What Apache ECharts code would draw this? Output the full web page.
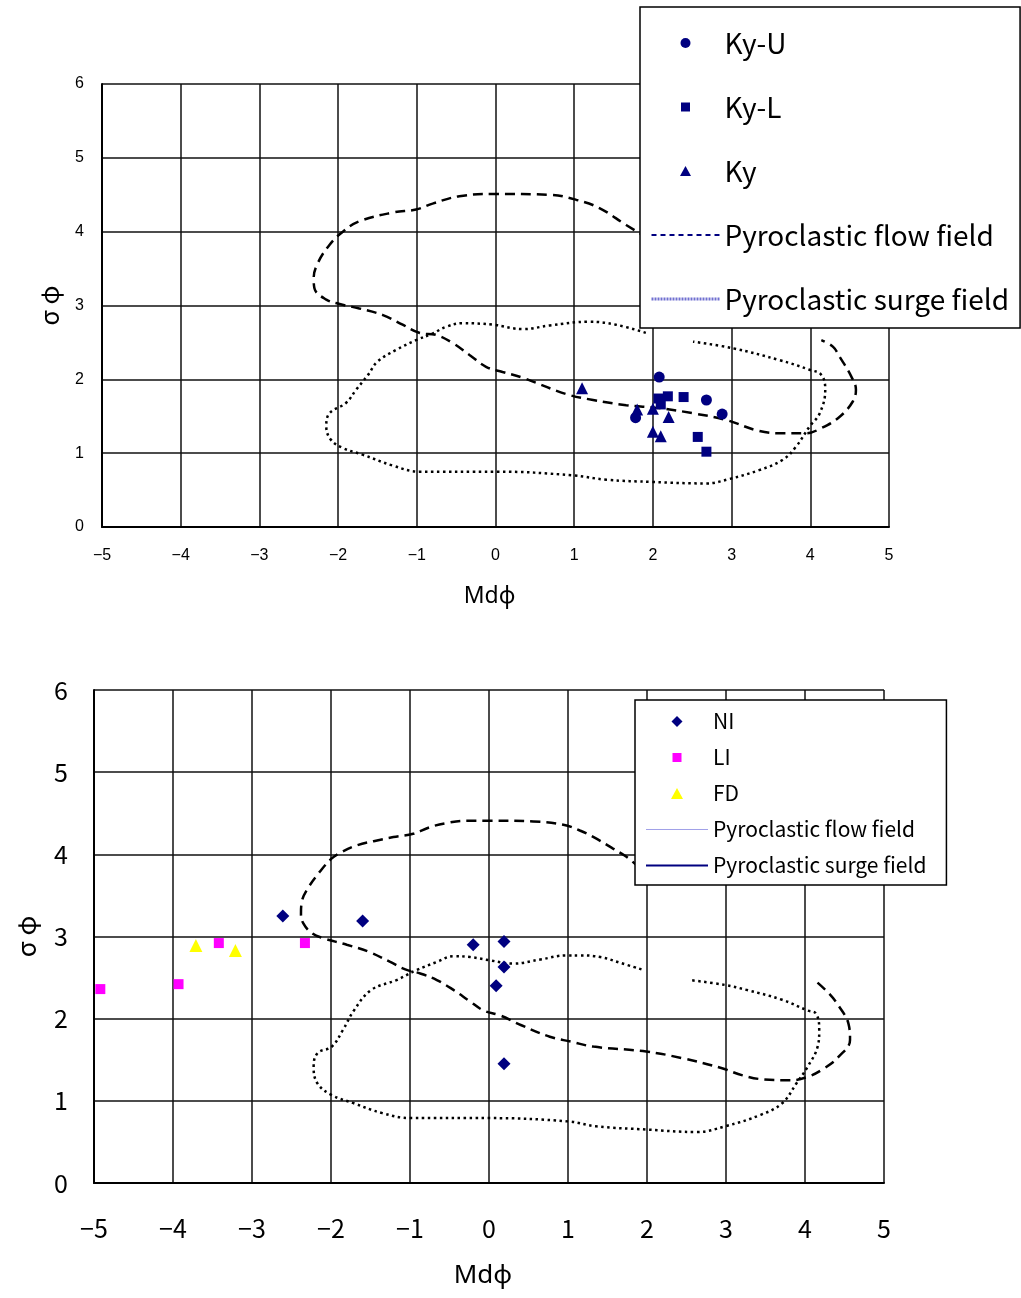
<!DOCTYPE html>
<html><head><meta charset="utf-8">
<script src="https://cdn.jsdelivr.net/npm/echarts@6/dist/echarts.min.js"></script>
<style>html,body{margin:0;padding:0;background:#fff}#top{width:1021px;height:640px}#bot{width:1021px;height:658px}</style>
</head><body><div id="top"></div><div id="bot"></div>
<script>
// ---- Top chart data (Mdφ, σφ) ----
const kyU = [[2.08,2.03],[1.78,1.48],[2.68,1.72],[2.88,1.53]];
const kyL = [[2.07,1.74],[2.10,1.66],[2.19,1.77],[2.39,1.76],[2.57,1.22],[2.68,1.02]];
const ky  = [[1.10,1.88],[1.80,1.59],[2.00,1.60],[2.20,1.49],[2.00,1.29],[2.10,1.23]];
const flowTop = [[1.94,3.91],[1.66,4.09],[1.32,4.32],[1.03,4.43],[0.69,4.50],[-0.03,4.51],[-0.46,4.48],[-0.80,4.38],[-1.01,4.30],[-1.30,4.26],[-1.73,4.14],[-1.94,4.00],[-2.11,3.82],[-2.26,3.57],[-2.31,3.37],[-2.30,3.23],[-2.15,3.08],[-1.98,3.02],[-1.73,2.96],[-1.43,2.87],[-1.18,2.74],[-0.97,2.63],[-0.75,2.60],[-0.54,2.49],[-0.33,2.33],[-0.12,2.17],[0.09,2.10],[0.35,2.02],[0.90,1.80],[1.24,1.72],[1.66,1.65],[2.08,1.61],[2.51,1.54],[2.93,1.45],[3.35,1.30],[3.65,1.27],[3.95,1.27],[4.14,1.34],[4.37,1.49],[4.54,1.70],[4.58,1.86],[4.52,2.04],[4.37,2.31],[4.29,2.44],[4.14,2.53]];
const surgeTop = [[1.91,2.63],[1.53,2.74],[1.19,2.78],[0.69,2.73],[0.35,2.68],[-0.03,2.74],[-0.42,2.76],[-0.63,2.71],[-0.80,2.62],[-1.01,2.53],[-1.26,2.40],[-1.50,2.24],[-1.62,2.06],[-1.77,1.86],[-1.90,1.68],[-2.11,1.54],[-2.15,1.36],[-2.09,1.18],[-1.94,1.07],[-1.69,0.98],[-1.30,0.83],[-0.97,0.75],[0.01,0.75],[0.98,0.70],[1.41,0.64],[2.00,0.61],[2.68,0.59],[2.97,0.65],[3.35,0.77],[3.65,0.91],[3.82,1.09],[3.99,1.36],[4.12,1.54],[4.19,1.86],[4.14,2.06],[3.99,2.13],[3.61,2.26],[3.02,2.42],[2.51,2.51]];

// ---- Bottom chart data ----
const ni = [[-2.61,3.25],[-1.60,3.19],[-0.20,2.90],[0.19,2.94],[0.19,2.63],[0.09,2.40],[0.19,1.45]];
const li = [[-4.92,2.36],[-3.93,2.42],[-3.42,2.92],[-2.33,2.92]];
const fd = [[-3.71,2.89],[-3.21,2.83]];
const flowBot = [[1.91,3.83],[1.74,3.97],[1.57,4.07],[1.36,4.19],[1.15,4.29],[0.94,4.36],[0.56,4.40],[0.01,4.41],[-0.28,4.41],[-0.54,4.38],[-0.75,4.33],[-0.96,4.25],[-1.21,4.21],[-1.46,4.16],[-1.67,4.11],[-1.86,4.03],[-1.99,3.95],[-2.14,3.79],[-2.29,3.59],[-2.37,3.42],[-2.38,3.28],[-2.35,3.16],[-2.24,3.04],[-2.10,2.98],[-1.80,2.90],[-1.51,2.81],[-1.25,2.69],[-1.06,2.60],[-0.87,2.55],[-0.66,2.47],[-0.45,2.35],[-0.24,2.21],[-0.07,2.10],[0.14,2.04],[0.41,1.92],[0.77,1.78],[1.04,1.72],[1.32,1.66],[1.99,1.60],[2.44,1.52],[2.94,1.40],[3.21,1.31],[3.48,1.26],[3.80,1.25],[4.03,1.29],[4.25,1.40],[4.43,1.54],[4.57,1.74],[4.55,1.94],[4.43,2.15],[4.30,2.31],[4.12,2.47]];
const surgeBot = [[1.93,2.60],[1.66,2.68],[1.41,2.75],[1.15,2.77],[0.98,2.77],[0.65,2.72],[0.31,2.67],[0.01,2.71],[-0.24,2.75],[-0.45,2.76],[-0.66,2.69],[-0.92,2.59],[-1.17,2.47],[-1.49,2.35],[-1.71,2.10],[-1.85,1.86],[-1.99,1.66],[-2.17,1.58],[-2.22,1.41],[-2.17,1.21],[-1.99,1.07],[-1.71,0.97],[-1.35,0.85],[-0.99,0.79],[0.00,0.79],[1.00,0.75],[1.36,0.69],[2.01,0.65],[2.63,0.62],[2.99,0.69],[3.44,0.83],[3.71,0.97],[3.89,1.21],[4.03,1.41],[4.16,1.66],[4.18,1.86],[4.14,2.06],[4.03,2.10],[3.71,2.23],[3.26,2.35],[2.99,2.41],[2.54,2.47]];

const NAVY = '#000080';
const fmt = v => String(v).replace('-', '\u2212');
const JP = '"Noto Sans CJK JP", "Noto Sans", sans-serif';

function axes(o) {
  return {
    xAxis: {
      type: 'value', min: -5, max: 5, interval: 1,
      axisLine: { onZero: false, lineStyle: { color: '#000', width: 2 } },
      axisTick: { show: false },
      splitLine: { show: true, lineStyle: { color: '#111', width: 1.5 } },
      axisLabel: { formatter: fmt, color: '#000', fontSize: o.tick, fontFamily: o.tickFont, margin: o.xm },
      name: 'Md\u03c6', nameLocation: 'middle', nameGap: o.xng,
      nameTextStyle: { fontSize: o.nm, color: '#000', fontFamily: '"Noto Sans", "DejaVu Sans", sans-serif', padding: [0, o.xpad, 0, 0] }
    },
    yAxis: {
      type: 'value', min: 0, max: 6, interval: 1,
      axisLine: { show: true, onZero: false, lineStyle: { color: '#000', width: 2 } },
      axisTick: { show: false },
      splitLine: { show: true, lineStyle: { color: '#111', width: 1.5 } },
      axisLabel: { color: '#000', fontSize: o.tick, fontFamily: o.tickFont, margin: o.ym },
      name: '\u03c3 \u03c6', nameLocation: 'middle', nameGap: o.yng, nameRotate: 90,
      nameTextStyle: { fontSize: o.ynm, color: '#000', fontFamily: JP }
    }
  };
}
function curve(name, data, dash) {
  return { name, type: 'line', data, smooth: 0.4, symbol: 'none', z: 1, silent: true,
    lineStyle: { color: '#000', width: 2.5, type: dash } };
}
function pts(name, data, symbol, size, color) {
  return { name, type: 'scatter', data, symbol, symbolSize: size, z: 3,
    itemStyle: { color, opacity: 1 } };
}
const HIDE = { color: 'rgba(0,0,0,0)', borderWidth: 0 };

// ---- Top chart ----
const topChart = echarts.init(document.getElementById('top'));
const ta = axes({ tick: 16, tickFont: '"Liberation Sans", Arial, sans-serif', xm: 21, ym: 18, xng: 58, yng: 40, nm: 23, ynm: 25, xpad: 12 });
topChart.setOption({
  animation: false,
  grid: { left: 102, top: 84, width: 787, height: 443 },
  xAxis: ta.xAxis, yAxis: ta.yAxis,
  legend: {
    orient: 'vertical', left: 640, top: 7,
    padding: [22, 11, 15, 10], itemWidth: 68, itemHeight: 11, itemGap: 36,
    backgroundColor: '#fff', borderColor: '#000', borderWidth: 1.5,
    textStyle: { fontSize: 28, lineHeight: 28, color: '#000', fontFamily: JP },
    data: [
      { name: 'Ky-U', icon: 'path://M0 0M68 11M39 5.5A5 5 0 1 1 29 5.5A5 5 0 1 1 39 5.5Z' },
      { name: 'Ky-L', icon: 'path://M0 0M68 11M29.5 1L38.5 1L38.5 10L29.5 10Z' },
      { name: 'Ky', icon: 'path://M0 0M68 11M34 0.5L39.5 10.5L28.5 10.5Z' },
      { name: 'Pyroclastic flow field', itemStyle: HIDE, lineStyle: { color: NAVY, width: 2, type: [5, 4] } },
      { name: 'Pyroclastic surge field', itemStyle: HIDE, lineStyle: { color: '#7070d0', width: 3, type: [2, 1] } }
    ]
  },
  series: [
    pts('Ky-U', kyU, 'circle', 11, NAVY),
    pts('Ky-L', kyL, 'rect', 10, NAVY),
    pts('Ky', ky, 'triangle', 12, NAVY),
    curve('Pyroclastic flow field', flowTop, [10, 6]),
    curve('Pyroclastic surge field', surgeTop, [2.5, 3.5])
  ]
});

// ---- Bottom chart ----
const botChart = echarts.init(document.getElementById('bot'));
const ba = axes({ tick: 25, tickFont: JP, xm: 33, ym: 26, xng: 80, yng: 55, nm: 26, ynm: 26, xpad: 12 });
botChart.setOption({
  animation: false,
  grid: { left: 94, top: 50, width: 790, height: 493 },
  xAxis: ba.xAxis, yAxis: ba.yAxis,
  legend: {
    orient: 'vertical', left: 635, top: 60,
    padding: [11, 20, 9, 10], itemWidth: 62, itemHeight: 12, itemGap: 15,
    backgroundColor: '#fff', borderColor: '#000', borderWidth: 1.5,
    textStyle: { fontSize: 21, lineHeight: 20, color: '#000', fontFamily: JP },
    data: [
      { name: 'NI', icon: 'path://M0 0M62 12M31 0.5L36.5 6L31 11.5L25.5 6Z' },
      { name: 'LI', icon: 'path://M0 0M62 12M26.5 1.5L35.5 1.5L35.5 10.5L26.5 10.5Z' },
      { name: 'FD', icon: 'path://M0 0M62 12M31 0.5L37 11.5L25 11.5Z' },
      { name: 'Pyroclastic flow field', itemStyle: HIDE, lineStyle: { color: '#a0a0e8', width: 1, type: 'solid' } },
      { name: 'Pyroclastic surge field', itemStyle: HIDE, lineStyle: { color: NAVY, width: 2, type: 'solid' } }
    ]
  },
  series: [
    pts('NI', ni, 'diamond', 13, NAVY),
    pts('LI', li, 'rect', 10, '#ff00ff'),
    pts('FD', fd, 'triangle', 13, '#ffff00'),
    curve('Pyroclastic flow field', flowBot, [10, 6]),
    curve('Pyroclastic surge field', surgeBot, [2.5, 3.5])
  ]
});
</script>
</body></html>
